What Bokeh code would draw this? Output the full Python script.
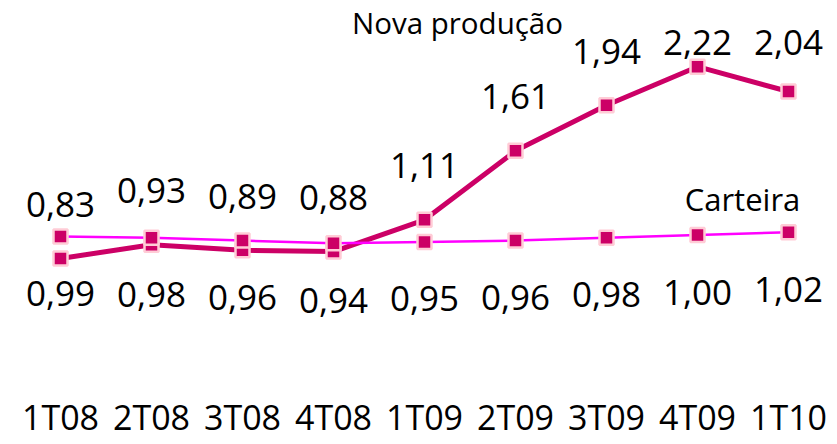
from bokeh.plotting import figure
from bokeh.models import ColumnDataSource
from bokeh.core.properties import value
from bokeh.embed import file_html
from bokeh.resources import INLINE

categories = ["1T08", "2T08", "3T08", "4T08", "1T09", "2T09", "3T09", "4T09", "1T10"]
nova_producao = [0.83, 0.93, 0.89, 0.88, 1.11, 1.61, 1.94, 2.22, 2.04]
carteira = [0.99, 0.98, 0.96, 0.94, 0.95, 0.96, 0.98, 1.00, 1.02]

FONT = "Open Sans"
PX = 138.0          # pixels per unit on y
XPX = 91.0          # pixels per category on x
W, H = 836, 444
Y_END = 0.83 + 258 / PX
Y_START = Y_END - H / PX
X_START = -60 / XPX
X_END = X_START + W / XPX

def fmt(v):
    return f"{v:.2f}".replace(".", ",")

def ypix(py):
    return Y_END - py / PX

xs = list(range(len(categories)))
cap = ypix(42)
nova_label_y = [min(v + 54 / PX, cap) for v in nova_producao]
cart_label_y = [v - 57 / PX for v in carteira]

src = ColumnDataSource(dict(
    x=xs, nova=nova_producao, cart=carteira,
    nova_txt=[fmt(v) for v in nova_producao],
    cart_txt=[fmt(v) for v in carteira],
    nova_ly=nova_label_y, cart_ly=cart_label_y,
    cat=categories, cat_y=[ypix(416)] * len(categories),
))

p = figure(frame_width=W, frame_height=H,
           x_range=(X_START, X_END), y_range=(Y_START, Y_END),
           output_backend="svg", toolbar_location=None,
           min_border=0, min_border_left=0, min_border_right=0,
           min_border_top=0, min_border_bottom=0)
p.outline_line_color = None
p.xgrid.visible = False
p.ygrid.visible = False
p.xaxis.visible = False
p.yaxis.visible = False
p.background_fill_color = "white"
p.border_fill_color = "white"

LINE_DARK = "#CC0066"
LINE_LIGHT = "#FF00FF"
MARK_FILL = "#CC0066"
MARK_BORDER = "#FFCCD6"

p.line("x", "nova", source=src, line_color=LINE_DARK, line_width=5)
p.scatter("x", "nova", source=src, marker="square", size=14,
          fill_color=MARK_FILL, line_color=MARK_BORDER, line_width=2.5)
p.line("x", "cart", source=src, line_color=LINE_LIGHT, line_width=2.5)
p.scatter("x", "cart", source=src, marker="square", size=14,
          fill_color=MARK_FILL, line_color=MARK_BORDER, line_width=2.5)

p.text("x", "nova_ly", text="nova_txt", source=src,
       text_font=value(FONT), text_font_size="35px", text_color="black",
       text_align="center", text_baseline="middle")
p.text("x", "cart_ly", text="cart_txt", source=src,
       text_font=value(FONT), text_font_size="35px", text_color="black",
       text_align="center", text_baseline="middle")
p.text("x", "cat_y", text="cat", source=src,
       text_font=value(FONT), text_font_size="34px", text_color="black",
       text_align="center", text_baseline="middle")

p.text(x=[(457 - 60) / XPX], y=[ypix(22)], text=["Nova produção"],
       text_font=value(FONT), text_font_size="29.5px", text_color="black",
       text_align="center", text_baseline="middle")
p.text(x=[(742 - 60) / XPX], y=[ypix(198)], text=["Carteira"],
       text_font=value(FONT), text_font_size="31px", text_color="black",
       text_align="center", text_baseline="middle")

open("out.html", "w").write(file_html(p, INLINE))
